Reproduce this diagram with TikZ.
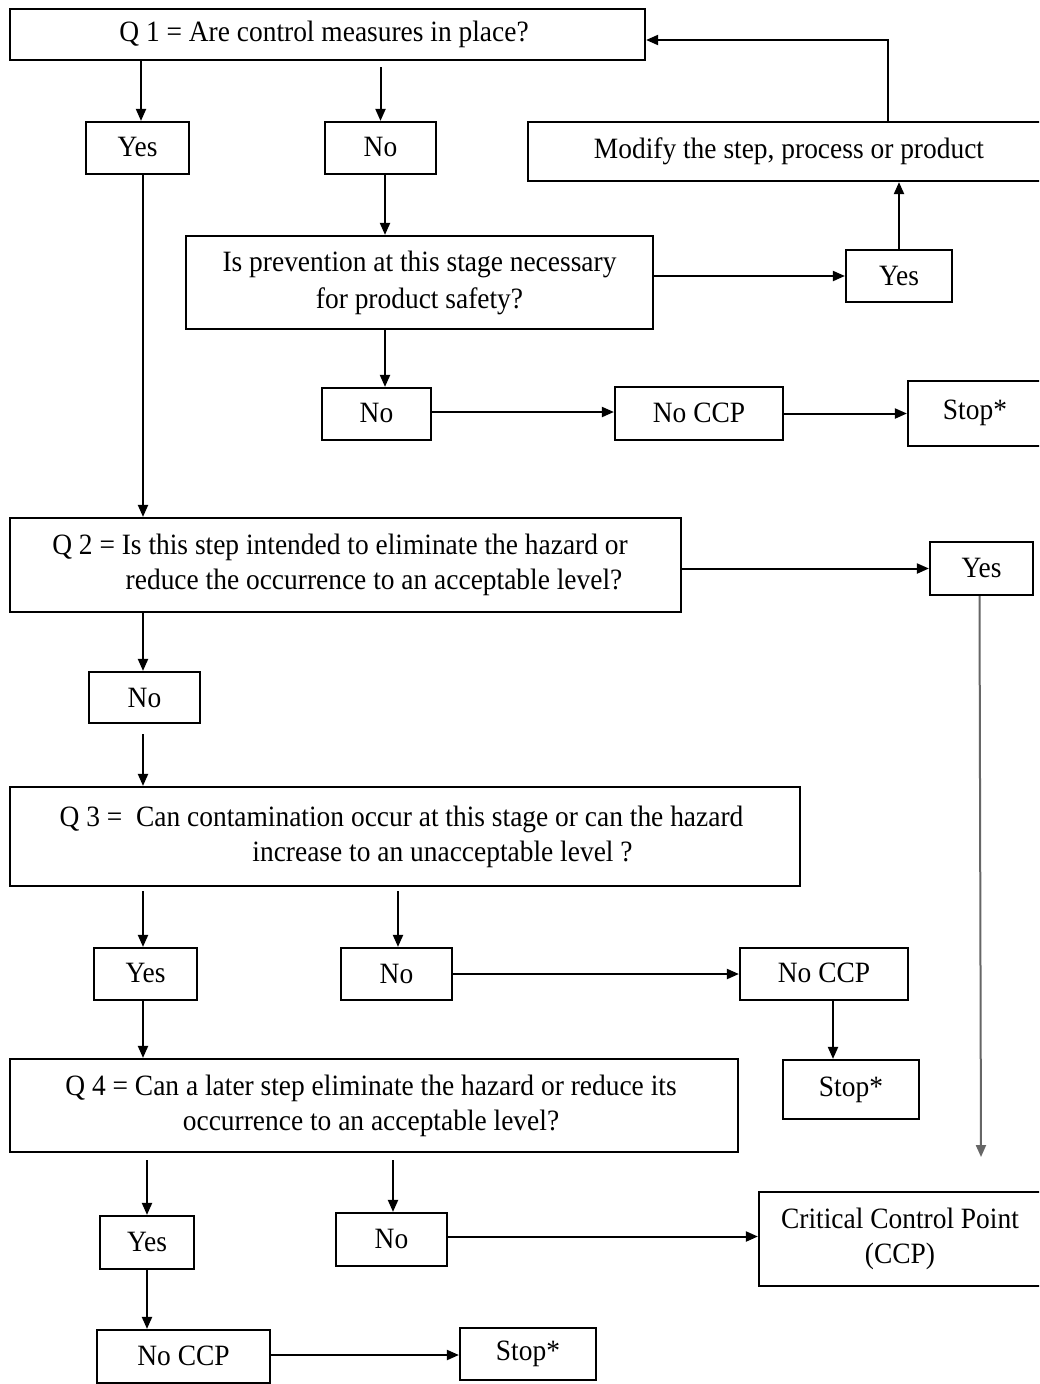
\documentclass[tikz,border=0pt]{standalone}
\usepackage{fontspec}
\setmainfont{Liberation Serif}[FakeStretch=0.93]
\usetikzlibrary{arrows.meta}
\tikzset{
  box/.style={draw, line width=2.2pt, inner sep=1pt, align=center, font=\fontsize{29.5}{35}\selectfont},
  arr/.style={-{Triangle[length=12pt,width=10pt]}, line width=2pt},
}
\begin{document}
\begin{tikzpicture}[x=1pt,y=-1pt]
\path[use as bounding box] (0,0) rectangle (1039,1384);
\clip (0,0) rectangle (1039,1384);
\fill[white] (0,0) rectangle (1039,1384);
% boxes
\node[box, minimum width=635, minimum height=51] (q1) at (327.5,34.5) {\raisebox{2pt}{Q 1 = Are control measures in place?}\hspace*{7pt}};
\node[box, minimum width=103, minimum height=52] (yes1) at (137.5,148) {\raisebox{2pt}{Yes}};
\node[box, minimum width=111, minimum height=52] (no1) at (380.5,148) {\raisebox{2pt}{No}};
\node[box, minimum width=522, minimum height=59] (modify) at (789,151.5) {\raisebox{5pt}{Modify the step, process or product}};
\node[box, minimum width=467, minimum height=93] (prev) at (419.5,282.5) {\raisebox{4pt}{\begin{tabular}{@{}c@{}}Is prevention at this stage necessary\\[2pt]for product safety?\end{tabular}}};
\node[box, minimum width=106, minimum height=52] (yes2) at (899,276) {Yes};
\node[box, minimum width=109, minimum height=52] (no2) at (376.5,414) {\raisebox{2pt}{No}};
\node[box, minimum width=168, minimum height=53] (noccp1) at (699,413.5) {\raisebox{2pt}{No CCP}};
\node[box, minimum width=134, minimum height=65] (stop1) at (975,413.5) {\raisebox{8pt}{Stop*}};
\node[box, minimum width=671, minimum height=94] (q2) at (345.5,565) {\raisebox{4pt}{\begin{tabular}{@{}c@{}}Q 2 = Is this step intended to eliminate the hazard or\hspace*{11pt}\\\hspace*{57pt}reduce the occurrence to an acceptable level?\end{tabular}}};
\node[box, minimum width=103, minimum height=53] (yes3) at (981.5,568.5) {\raisebox{2pt}{Yes}};
\node[box, minimum width=111, minimum height=51] (no3) at (144.5,697.5) {No};
\node[box, minimum width=790, minimum height=99] (q3) at (405,836.5) {\raisebox{3pt}{\begin{tabular}{@{}c@{}}Q 3 = \ Can contamination occur at this stage or can the hazard\hspace*{7pt}\\\hspace*{75pt}increase to an unacceptable level ?\end{tabular}}};
\node[box, minimum width=103, minimum height=52] (yes4) at (145.5,974) {\raisebox{2pt}{Yes}};
\node[box, minimum width=111, minimum height=52] (no4) at (396.5,974) {No};
\node[box, minimum width=168, minimum height=52] (noccp2) at (824,974) {\raisebox{2pt}{No CCP}};
\node[box, minimum width=136, minimum height=59] (stop2) at (851,1089.5) {\raisebox{2pt}{Stop*}};
\node[box, minimum width=728, minimum height=93] (q4) at (374,1105.5) {\raisebox{2pt}{\begin{tabular}{@{}c@{}}Q 4 = Can a later step eliminate the hazard or reduce its\hspace*{6pt}\\occurrence to an acceptable level?\hspace*{6pt}\end{tabular}}};
\node[box, minimum width=94, minimum height=53] (yes5) at (147,1242.5) {\raisebox{2pt}{Yes}};
\node[box, minimum width=111, minimum height=53] (no5) at (391.5,1239.5) {\raisebox{2pt}{No}};
\node[box, minimum width=282, minimum height=94] (ccp) at (900,1239) {Critical Control Point\\(CCP)};
\node[box, minimum width=173, minimum height=53] (noccp3) at (183.5,1356.5) {\raisebox{2pt}{No CCP}};
\node[box, minimum width=136, minimum height=52] (stop3) at (528,1354) {\raisebox{2pt}{Stop*}};
\coordinate (ccpin) at (981,1157);
% connectors
\draw[arr] ([xshift=3.5pt]q1.south -| yes1.north) -- ([xshift=3.5pt]yes1.north);
\draw[arr] ([yshift=-6pt]q1.south -| no1.north) -- (no1.north);
\draw[arr] ([xshift=4.5pt]no1.south) -- ([xshift=4.5pt]no1.south |- prev.north);
\draw[arr] (prev.east |- yes2.west) -- (yes2.west);
\draw[arr] (yes2.north) -- (yes2.north |- modify.south);
\draw[arr] ([xshift=99pt]modify.north) |- ([yshift=-5.5pt]q1.east);
\draw[arr] ([xshift=8.5pt]no2.north |- prev.south) -- ([xshift=8.5pt]no2.north);
\draw[arr] ([yshift=2pt]no2.east) -- ([yshift=2pt]no2.east -| noccp1.west);
\draw[arr] (noccp1.east) -- (noccp1.east -| stop1.west);
\draw[arr] ([xshift=5.5pt]yes1.south) -- ([xshift=5.5pt]yes1.south |- q2.north);
\draw[arr] (q2.east |- yes3.west) -- (yes3.west);
\draw[arr, draw=black!60, fill=black!70] ([xshift=-2pt]yes3.south) -- (ccpin);
\draw[arr] ([xshift=-1.5pt]no3.north |- q2.south) -- ([xshift=-1.5pt]no3.north);
\draw[arr] ([xshift=-1.5pt,yshift=-10pt]no3.south) -- ([xshift=-1.5pt]no3.south |- q3.north);
\draw[arr] ([xshift=-2.5pt,yshift=-4pt]yes4.north |- q3.south) -- ([xshift=-2.5pt]yes4.north);
\draw[arr] ([xshift=1.5pt,yshift=-4pt]no4.north |- q3.south) -- ([xshift=1.5pt]no4.north);
\draw[arr] (no4.east) -- (noccp2.west);
\draw[arr] ([xshift=9pt]noccp2.south) -- ([xshift=9pt]noccp2.south |- stop2.north);
\draw[arr] ([xshift=-2.5pt]yes4.south) -- ([xshift=-2.5pt]yes4.south |- q4.north);
\draw[arr] ([yshift=-7pt]yes5.north |- q4.south) -- (yes5.north);
\draw[arr] ([xshift=1.5pt,yshift=-7pt]no5.north |- q4.south) -- ([xshift=1.5pt]no5.north);
\draw[arr] ([yshift=3pt]no5.east) -- ([yshift=3pt]no5.east -| ccp.west);
\draw[arr] (yes5.south) -- (yes5.south |- noccp3.north);
\draw[arr] ([yshift=1.5pt]noccp3.east) -- ([yshift=1.5pt]noccp3.east -| stop3.west);
\end{tikzpicture}
\end{document}
